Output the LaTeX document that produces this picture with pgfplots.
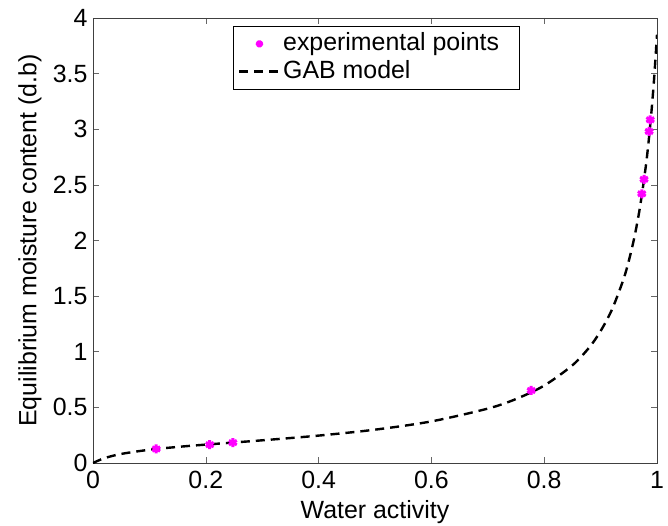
\documentclass[border=0pt]{standalone}
\usepackage{pgfplots}
\pgfplotsset{compat=1.18}
\usepackage{fontspec}
\setmainfont{Liberation Sans}
\definecolor{mag}{RGB}{255,0,255}
\begin{document}
\fontsize{25}{29}\selectfont
\begin{tikzpicture}
\begin{axis}[
  scale only axis,
  width=564bp, height=445bp,
  xmin=0, xmax=1, ymin=0, ymax=4,
  xtick={0,0.2,0.4,0.6,0.8,1},
  ytick={0,0.5,1,1.5,2,2.5,3,3.5,4},
  xticklabels={0,0.2,0.4,0.6,0.8,1},
  yticklabels={0,0.5,1,1.5,2,2.5,3,3.5,4},
  tick align=inside,
  major tick length=6bp,
  tick style={black!60, line width=0.6pt},
  axis line style={black!75, line width=0.8pt},
  xlabel={Water activity},
  ylabel={Equilibrium moisture content (d.b)},
  xlabel style={at={(axis description cs:0.5,-0.1258)}, anchor=base},
  ylabel style={at={(axis description cs:-0.112,0.5)}, anchor=center},
  tick label style={font=\fontsize{25}{29}\selectfont},
  yticklabel style={xshift=3bp},
  label style={font=\fontsize{25}{29}\selectfont},
  legend style={at={(0.248,0.982)}, anchor=north west, draw=black,
    line width=0.8pt,
    font=\fontsize{25}{29}\selectfont, row sep=1bp,
    inner xsep=5bp, inner ysep=4bp,
    nodes={inner sep=2.5bp}},
  legend cell align=left,
  legend image code/.code={
    \draw[mark repeat=2, mark phase=2, #1, mark size=3.5bp] plot coordinates {(0bp,0bp) (20bp,0bp) (40bp,0bp)};
  },
]
\addplot[only marks, mark=asterisk, mark size=4.5bp, line width=3bp, color=mag]
coordinates {
  (0.112,0.126) (0.207,0.165) (0.248,0.183) (0.777,0.652)
  (0.973,2.42) (0.977,2.55) (0.986,2.98) (0.988,3.085)
};
\addlegendentry{experimental points\rule{13bp}{0pt}}
\addplot[black, line width=2.4bp, dash pattern=on 9bp off 6bp, smooth]
coordinates {
  (0,0) (0.02,0.0431) (0.05,0.0816) (0.1,0.1192) (0.15,0.1445)
  (0.2,0.1654) (0.3,0.2039) (0.4,0.2463) (0.5,0.2997) (0.6,0.3740)
  (0.7,0.4891) (0.75,0.5752) (0.8,0.6960) (0.85,0.8783) (0.88,1.0396)
  (0.9,1.1859) (0.92,1.3778) (0.94,1.6425) (0.95,1.8168) (0.96,2.0320)
  (0.97,2.3047) (0.98,2.6614) (0.985,2.884) (0.99,3.1477) (0.995,3.464)
  (1.0,3.8506)
};
\addlegendentry{GAB model}
\end{axis}
\pgfresetboundingbox
\useasboundingbox ([shift={(-93bp,-63bp)}]current axis.south west) rectangle ([shift={(11bp,18bp)}]current axis.north east);
\end{tikzpicture}
\end{document}
